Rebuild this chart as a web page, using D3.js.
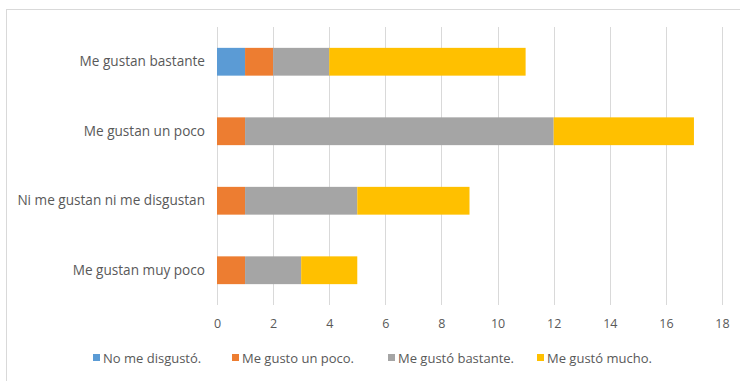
<!DOCTYPE html>
<html><head><meta charset="utf-8">
<script src="https://cdn.jsdelivr.net/npm/d3@7"></script>
<style>body{margin:0;background:#fff}svg{display:block}text{font-family:"Open Sans",sans-serif;fill:#595959}</style>
</head><body>
<svg id="c" width="740" height="381"></svg>
<script>
const categories = ["Me gustan bastante","Me gustan un poco","Ni me gustan ni me disgustan","Me gustan muy poco"];
const seriesNames = ["No me disgustó.","Me gusto un poco.","Me gustó bastante.","Me gustó mucho."];
const noMeDisgusto = [1,0,0,0];
const meGustoUnPoco = [1,1,1,1];
const meGustoBastante = [2,11,4,2];
const meGustoMucho = [7,5,4,2];
const xTicks = [0,2,4,6,8,10,12,14,16,18];
const colors = ["#5B9BD5","#ED7D31","#A5A5A5","#FFC000"];

const svg = d3.select("#c");
svg.append("rect").attr("x",6.5).attr("y",9.5).attr("width",760).attr("height",400)
  .attr("fill","none").attr("stroke","#d9d9d9");

const x = d3.scaleLinear().domain([0,18]).range([217,722]);
const y = d3.scaleBand().domain(categories).range([27,305]).paddingInner(0.6).paddingOuter(0.3);

const rows = categories.map((c,i)=>({cat:c, s0:noMeDisgusto[i], s1:meGustoUnPoco[i], s2:meGustoBastante[i], s3:meGustoMucho[i]}));
const stack = d3.stack().keys(["s0","s1","s2","s3"])(rows);

// gridlines
svg.append("g").selectAll("line").data(xTicks).join("line")
  .attr("x1",d=>Math.round(x(d))+0.5).attr("x2",d=>Math.round(x(d))+0.5)
  .attr("y1",27).attr("y2",305).attr("stroke","#d9d9d9");

svg.append("g").selectAll("g").data(stack).join("g").attr("fill",(d,i)=>colors[i])
  .selectAll("rect").data(d=>d).join("rect")
  .attr("x",d=>x(d[0])).attr("width",d=>x(d[1])-x(d[0]))
  .attr("y",d=>y(d.data.cat)).attr("height",y.bandwidth());

// x axis labels
const xa = svg.append("g").attr("transform","translate(0,305)")
  .call(d3.axisBottom(x).tickValues(xTicks).tickSize(0).tickPadding(14));
xa.select(".domain").remove();
xa.selectAll("text").attr("font-size",12.5).style("fill","#595959").attr("font-family","Open Sans, sans-serif");

// y axis labels
const ya = svg.append("g").attr("transform","translate(217,0)")
  .call(d3.axisLeft(y).tickSize(0).tickPadding(12));
ya.select(".domain").remove();
ya.selectAll("text").attr("font-size",13.6).style("fill","#595959").attr("font-family","Open Sans, sans-serif");

// legend
const legX = [93,232,388,537];
const leg = svg.append("g").selectAll("g").data(seriesNames).join("g")
  .attr("transform",(d,i)=>`translate(${legX[i]},358)`);
leg.append("rect").attr("x",0).attr("y",-4).attr("width",7).attr("height",7).attr("fill",(d,i)=>colors[i]);
leg.append("text").attr("x",10).attr("dy","0.35em").attr("font-size",13).text(d=>d);
</script>
</body></html>
